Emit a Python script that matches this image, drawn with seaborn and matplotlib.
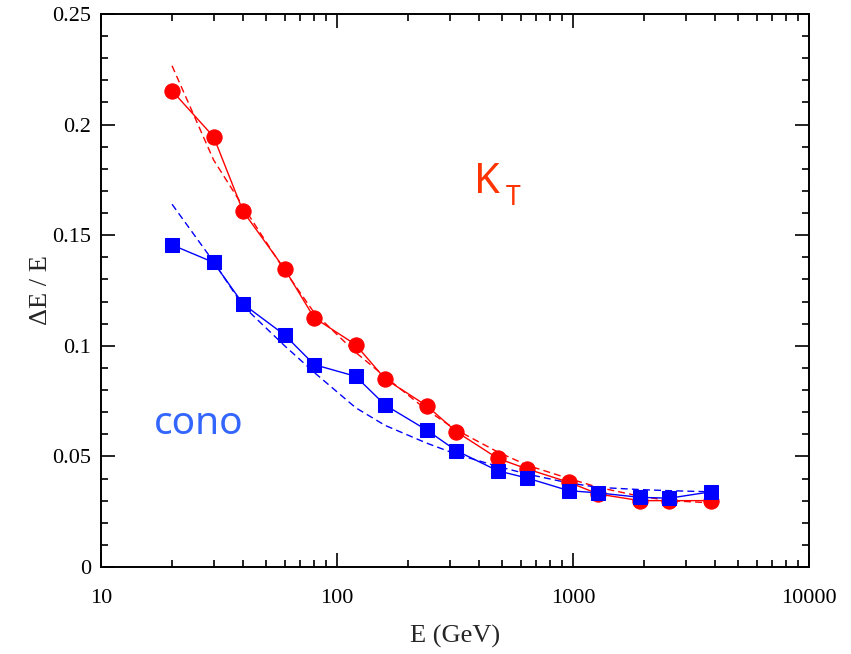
import numpy as np
import pandas as pd
import matplotlib
matplotlib.use("Agg")
import matplotlib.pyplot as plt
import seaborn as sns
from matplotlib.ticker import MultipleLocator, LogLocator, FixedLocator, NullFormatter

energy = [20, 30, 40, 60, 80, 120, 160, 240, 320, 480, 640, 960, 1280, 1920, 2560, 3840]
kt_res = [0.2153, 0.1945, 0.1608, 0.1347, 0.1127, 0.1005, 0.0850, 0.0729, 0.0612,
          0.0491, 0.0443, 0.0383, 0.0330, 0.0300, 0.0300, 0.0300]
cono_res = [0.1456, 0.1377, 0.1189, 0.1049, 0.0915, 0.0862, 0.0732, 0.0619, 0.0526,
            0.0435, 0.0402, 0.0345, 0.0335, 0.0315, 0.0311, 0.0340]
kt_fit = [0.2266, 0.1840, 0.1630, 0.1340, 0.1150, 0.0970, 0.0860, 0.0710, 0.0620,
          0.0520, 0.0460, 0.0400, 0.0360, 0.0320, 0.0300, 0.0290]
cono_fit = [0.1640, 0.1380, 0.1180, 0.1000, 0.0880, 0.0720, 0.0640, 0.0560, 0.0510,
            0.0455, 0.0420, 0.0380, 0.0360, 0.0350, 0.0345, 0.0340]

x_ticks = [10, 100, 1000, 10000]
x_ticklabels = ["10", "100", "1000", "10000"]
y_ticks = [0, 0.05, 0.1, 0.15, 0.2, 0.25]
y_ticklabels = ["0", "0.05", "0.1", "0.15", "0.2", "0.25"]

sns.set_style("ticks")
plt.rcParams["font.family"] = ["Liberation Serif", "DejaVu Serif"]

fig = plt.figure(figsize=(8.51, 6.54), dpi=100)
ax = fig.add_axes([101/851, 1-567/654, (809-101)/851, (567-14)/654])

RED = "#ff0000"
BLUE = "#0000ff"

sns.lineplot(x=energy, y=kt_fit, ax=ax, color=RED, lw=1.0, linestyle=(0, (5, 3)))
sns.lineplot(x=energy, y=cono_fit, ax=ax, color=BLUE, lw=1.0, linestyle=(0, (5, 3)))
sns.lineplot(x=energy, y=kt_res, ax=ax, color=RED, lw=1.0, marker="o", markersize=11,
             markeredgecolor=RED, markerfacecolor=RED)
sns.lineplot(x=energy, y=cono_res, ax=ax, color=BLUE, lw=1.0, marker="s", markersize=9.5,
             markeredgecolor=BLUE, markerfacecolor=BLUE)

ax.set_xscale("log")
ax.set_xlim(10, 10000)
ax.set_ylim(0, 0.25)
ax.xaxis.set_major_locator(FixedLocator(x_ticks))
ax.set_xticklabels(x_ticklabels)
ax.xaxis.set_minor_locator(LogLocator(base=10, subs=np.arange(2, 10)))
ax.xaxis.set_minor_formatter(NullFormatter())
ax.yaxis.set_major_locator(FixedLocator(y_ticks))
ax.set_yticklabels(y_ticklabels)
ax.yaxis.set_minor_locator(MultipleLocator(0.01))

ax.tick_params(which="both", direction="in", top=True, right=True, colors="black",
               labelsize=16, width=1.2)
ax.tick_params(which="major", length=10)
ax.tick_params(which="minor", length=5)
ax.tick_params(axis="x", pad=16)
ax.tick_params(axis="y", pad=7)
for s in ax.spines.values():
    s.set_linewidth(1.4)
    s.set_color("black")

ax.set_xlabel("E (GeV)", fontsize=19, labelpad=12)
ax.set_ylabel("ΔE / E", fontsize=19, labelpad=0)

ax.text(0.527, 0.677, "K", transform=ax.transAxes, fontsize=30, color="#ff3300",
        family=["Noto Sans", "DejaVu Sans"], ha="left", va="baseline")
ax.text(0.572, 0.655, "T", transform=ax.transAxes, fontsize=19, color="#ff3300",
        family=["Noto Sans", "DejaVu Sans"], ha="left", va="baseline")
ax.text(0.074, 0.24, "cono", transform=ax.transAxes, fontsize=28, color="#3366ff",
        family=["Noto Sans", "DejaVu Sans"], ha="left", va="baseline")

fig.savefig("out.png", dpi=100)
